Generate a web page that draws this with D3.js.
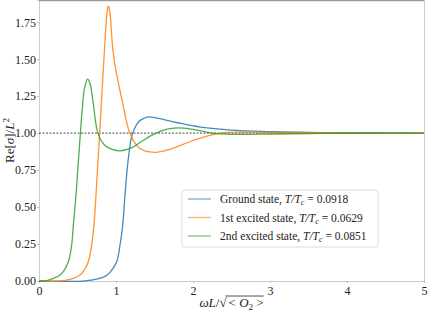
<!DOCTYPE html>
<html>
<head>
<meta charset="utf-8">
<script src="https://cdn.jsdelivr.net/npm/d3@7"></script>
<style>
body{margin:0;background:#fff;}
</style>
</head>
<body>
<svg id="chart"></svg>
<script>
var screen={width:435,height:312}
var margins={top:0,right:11,bottom:31,left:39}
var serif="'Liberation Serif','DejaVu Serif',serif"

// omega L / sqrt(<O2>) samples and Re[sigma]/L^2
var groundX=[0,0.6,0.79,0.87,0.93,1.009,1.052,1.087,1.117,1.15,1.2,1.24,1.3,1.36,1.42,1.55,1.8,2.1,2.5,3.0,3.5,4.0,5.0]
var groundY=[0,0.001,0.018,0.035,0.063,0.13,0.243,0.378,0.58,0.78,0.97,1.03,1.08,1.1,1.11,1.1,1.07,1.04,1.02,1.01,1.004,1.002,1.0]

var firstX=[0,0.3,0.446,0.52,0.575,0.64,0.684,0.714,0.74,0.765,0.79,0.814,0.85,0.88,0.9,0.92,0.96,1.0,1.08,1.18,1.3,1.5,1.7,2.0,2.35,2.7,3.2,4.0,5.0]
var firstY=[0,0.001,0.018,0.035,0.063,0.13,0.243,0.378,0.58,0.8,1.02,1.24,1.56,1.8,1.86,1.82,1.56,1.42,1.22,1.0,0.9,0.87,0.89,0.95,1.0,1.006,1.004,1.001,1.0]

var secondX=[0,0.1,0.19,0.26,0.316,0.381,0.424,0.446,0.48,0.51,0.535,0.56,0.59,0.63,0.66,0.7,0.765,0.85,0.95,1.05,1.2,1.35,1.5,1.65,1.8,2.0,2.25,2.5,3.0,3.5,4.0,5.0]
var secondY=[0,0.002,0.018,0.035,0.063,0.13,0.243,0.378,0.58,0.8,0.98,1.15,1.3,1.365,1.34,1.22,1.0,0.92,0.89,0.88,0.9,0.95,0.995,1.025,1.035,1.025,1.0,0.992,0.994,0.997,0.999,1.0]

var names=["Ground state, ","1st excited state, ","2nd excited state, "]
var ratios=["0.0918","0.0629","0.0851"]
var colors=["#1f77b4","#ff7f0e","#2ca02c"]
var xTicks=[0,1,2,3,4,5]
var yTicks=[0,0.25,0.5,0.75,1.0,1.25,1.5,1.75]

var svg=d3.select("#chart")
    .attr("width",screen.width)
    .attr("height",screen.height)

var x=d3.scaleLinear().domain([0,5]).range([margins.left,screen.width-margins.right])
var y=d3.scaleLinear().domain([0,1.9]).range([screen.height-margins.bottom,margins.top])

var xAxis=svg.append("g")
    .attr("transform","translate(0,"+y(0)+")")
    .call(d3.axisBottom(x).tickValues(xTicks).tickFormat(d3.format("d")).tickSize(2).tickPadding(1))
var yAxis=svg.append("g")
    .attr("transform","translate("+x(0)+",0)")
    .call(d3.axisLeft(y).tickValues(yTicks).tickFormat(d3.format(".2f")).tickSize(2).tickPadding(1))
svg.selectAll(".tick text").style("font-size","12px").style("font-family",serif).attr("fill","#222")
svg.selectAll(".tick line").attr("stroke","#bbb")
svg.selectAll(".domain").attr("stroke","#ccc")
xAxis.selectAll(".tick text").attr("dy","0.9em")

// top and right spines
svg.append("line").attr("x1",x(0)).attr("x2",x(5)).attr("y1",y(1.9)+0.5).attr("y2",y(1.9)+0.5).attr("stroke","#999").attr("stroke-width",1.5)
svg.append("line").attr("x1",x(5)+0.5).attr("x2",x(5)+0.5).attr("y1",y(1.9)).attr("y2",y(0)).attr("stroke","#ccc")

// reference line at 1
svg.append("line").attr("x1",x(0)).attr("x2",x(5)).attr("y1",y(1)).attr("y2",y(1))
    .attr("stroke","#333").attr("stroke-width",0.9).style("stroke-dasharray","2,1.5")

var line=d3.line().x(function(d){return x(d[0])}).y(function(d){return y(d[1])}).curve(d3.curveCatmullRom.alpha(0.5))
var series=[d3.zip(groundX,groundY),d3.zip(firstX,firstY),d3.zip(secondX,secondY)]
series.forEach(function(s,i){
    svg.append("path").datum(s).attr("d",line)
    .attr("fill","none").attr("stroke",colors[i]).attr("stroke-width",1.3).attr("opacity",0.85)
})

// legend
var lg=svg.append("g")
lg.append("rect").attr("x",182).attr("y",190).attr("width",196).attr("height",57).attr("rx",2)
    .attr("fill","#fff").attr("fill-opacity",0.8).attr("stroke","#ddd")
names.forEach(function(n,i){
    var yy=199+i*18.5
    lg.append("line").attr("x1",188).attr("x2",211).attr("y1",yy).attr("y2",yy)
    .attr("stroke",colors[i]).attr("stroke-width",1.3).attr("opacity",0.6)
    var t=lg.append("text").attr("x",220).attr("y",yy+4).style("font-size","11.5px").style("font-family",serif).attr("fill","#222")
    t.append("tspan").text(n)
    t.append("tspan").style("font-style","italic").text("T/T")
    t.append("tspan").style("font-style","italic").style("font-size","8px").attr("dy",2).text("c")
    t.append("tspan").attr("dy",-2).text(" = "+ratios[i])
})

// y label
var yl=svg.append("text").attr("transform","translate(14,"+y(0.95)+") rotate(-90)")
    .attr("text-anchor","middle").style("font-size","13px").style("font-family",serif).attr("fill","#222")
yl.append("tspan").text("Re[")
yl.append("tspan").style("font-style","italic").text("σ")
yl.append("tspan").text("]/")
yl.append("tspan").style("font-style","italic").text("L")
yl.append("tspan").style("font-size","9px").attr("dy",-5).text("2")

// x label with square root
var xl=svg.append("g")
var t1=xl.append("text").attr("x",0).attr("y",0).style("font-size","13px").style("font-family",serif).attr("fill","#222")
t1.append("tspan").style("font-style","italic").text("ωL")
t1.append("tspan").text("/√")
var w1=t1.node().getComputedTextLength()
var t2=xl.append("text").attr("x",w1+2).attr("y",0).style("font-size","13px").style("font-family",serif).attr("fill","#222")
t2.append("tspan").text(" < ")
t2.append("tspan").style("font-style","italic").text("O")
t2.append("tspan").style("font-size","9px").attr("dy",3).text("2")
t2.append("tspan").attr("dy",-3).text(" >")
var w2=t2.node().getComputedTextLength()
xl.append("line").attr("x1",w1-1).attr("x2",w1+2+w2).attr("y1",-11).attr("y2",-11).attr("stroke","#222").attr("stroke-width",0.8)
var total=w1+2+w2
xl.attr("transform","translate("+(x(2.5)-total/2)+",307)")
</script>
</body>
</html>
